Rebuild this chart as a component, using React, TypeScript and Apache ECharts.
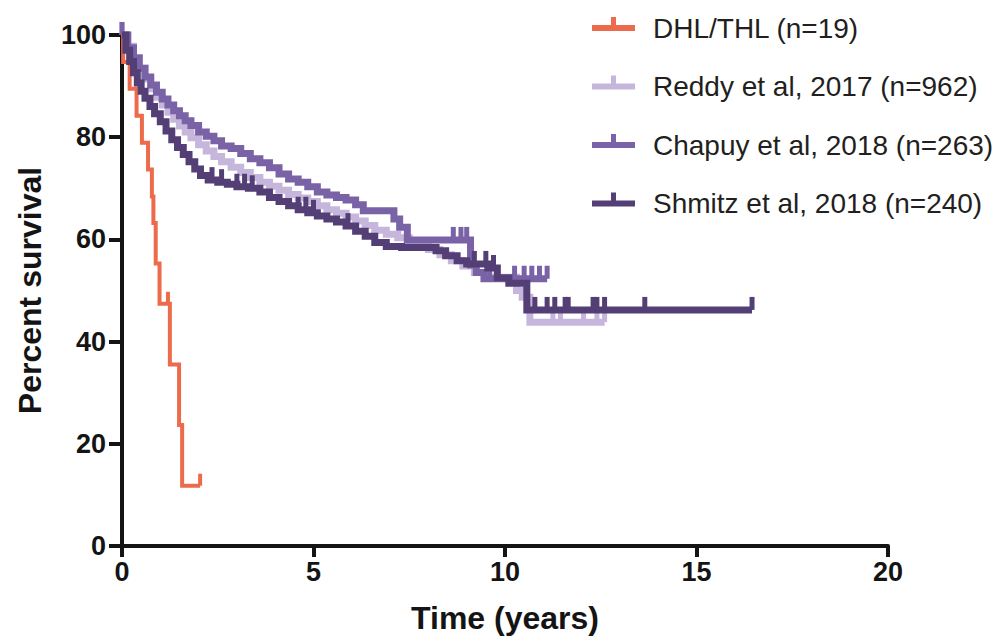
import React, { useEffect, useRef } from "react";
import * as echarts from "echarts";

const FONT = "'Liberation Sans', Arial, Helvetica, sans-serif";

const seriesNames = [
  "DHL/THL (n=19)",
  "Reddy et al, 2017 (n=962)",
  "Chapuy et al, 2018 (n=263)",
  "Shmitz et al, 2018 (n=240)",
];
const seriesColors = ["#EC6B4C", "#C6B6DB", "#7A62A6", "#533F75"];

// DHL/THL
const dhlTime = [0, 0.03, 0.2, 0.38, 0.52, 0.68, 0.78, 0.82, 0.88, 0.98, 1.25, 1.49, 1.57, 2.04];
const dhlSurv = [100, 94.7, 89.5, 84.2, 78.9, 73.7, 68.4, 63.2, 55.3, 47.4, 35.5, 23.7, 11.8, 11.8];
const dhlCensor = [1.2, 2.04];

// Reddy et al, 2017
const reddyTime = [0, 0.15, 0.3, 0.45, 0.6, 0.75, 0.9, 1.05, 1.2, 1.35, 1.5, 1.65, 1.8, 2.0, 2.2, 2.4, 2.6, 2.85, 3.1, 3.35, 3.6, 3.85, 4.1, 4.35, 4.6, 4.85, 5.1, 5.35, 5.6, 5.85, 6.1, 6.35, 6.6, 6.9, 7.2, 7.5, 7.8, 8.0, 8.3, 8.6, 8.9, 9.2, 9.5, 10.3, 10.45, 10.65, 12.6];
const reddySurv = [100, 97.8, 95.6, 93.5, 91.4, 89.5, 87.8, 86.3, 84.9, 83.5, 82.2, 81, 79.9, 78.5, 77.3, 76.2, 75.2, 74.1, 73.1, 72.1, 71.2, 70.4, 69.6, 68.8, 68.1, 67.4, 66.6, 65.8, 65.1, 64.4, 63.6, 62.7, 61.8, 61, 60.3, 59.6, 58.8, 58, 57, 55.8, 54.8, 53.5, 52.6, 50, 48.7, 43.8, 43.8];
const reddyCensor = [0, 11.25, 11.45, 12.05, 12.4, 12.6];

// Chapuy et al, 2018
const chapuyTime = [0, 0.15, 0.3, 0.45, 0.6, 0.75, 0.9, 1.05, 1.2, 1.35, 1.5, 1.65, 1.8, 2.0, 2.2, 2.4, 2.6, 2.85, 3.1, 3.35, 3.6, 3.85, 4.1, 4.35, 4.6, 4.85, 5.1, 5.35, 5.6, 5.85, 6.1, 6.3, 7.1, 7.25, 7.45, 9.1, 9.25, 9.45, 11.1];
const chapuySurv = [100, 97.5, 95.5, 93.5, 91.8, 90.2, 88.8, 87.5, 86.3, 85.2, 84.2, 83.2, 82.3, 81, 80.2, 79.3, 78.3, 77.8, 76.8, 75.8, 75, 74, 72.8, 71.8, 71.2, 70.3, 69.3, 68.7, 68.2, 67.7, 66.8, 65.6, 64, 62.4, 59.9, 55, 53.5, 52.3, 52.3];
const chapuyCensor = [0, 8.65, 8.85, 9.0, 9.6, 10.25, 10.5, 10.7, 10.9, 11.1];

// Shmitz et al, 2018
const shmitzTime = [0, 0.1, 0.2, 0.3, 0.4, 0.5, 0.6, 0.73, 0.85, 1.0, 1.15, 1.3, 1.45, 1.6, 1.75, 1.9, 2.05, 2.25, 2.5, 2.75, 3.0, 3.3, 3.6, 3.85, 4.1, 4.35, 4.6, 4.85, 5.1, 5.35, 5.6, 5.85, 6.1, 6.35, 6.6, 6.9, 7.3, 8.2, 8.45, 8.75, 9.0, 9.55, 9.8, 10.1, 10.57, 16.45];
const shmitzSurv = [100, 97, 94.8, 92.6, 90.6, 89, 87.6, 86, 84.6, 83, 81.2, 79.5, 78, 76.6, 75.2, 73.8, 72.5, 71.6, 71.2, 70.8, 70.3, 70, 69.3, 68.2, 67.4, 66.6, 65.8, 65.2, 64.6, 64, 63.4, 62.6, 61.6, 60.6, 59.4, 58.6, 58.4, 57.8, 56.8, 55.8, 55.2, 54.4, 52.5, 51.4, 46.2, 46.2];
const shmitzCensor = [2.35, 2.6, 3.0, 3.2, 3.4, 4.6, 4.8, 5.0, 5.9, 9.2, 9.5, 9.7, 10.78, 11.1, 11.3, 11.57, 11.65, 12.3, 12.4, 12.6, 13.65, 16.45];

const xTitle = "Time (years)";
const yTitle = "Percent survival";

const allTimes = [dhlTime, reddyTime, chapuyTime, shmitzTime];
const allSurv = [dhlSurv, reddySurv, chapuySurv, shmitzSurv];
const allCensor = [dhlCensor, reddyCensor, chapuyCensor, shmitzCensor];
const lineWidths = [4, 7, 7, 7];
const tickSizes: number[][] = [[4, 12], [5, 13], [5, 13], [5, 13]];

function survAt(times: number[], surv: number[], t: number) {
  let v = surv[0];
  for (let i = 0; i < times.length; i++) {
    if (times[i] <= t + 1e-9) v = surv[i];
  }
  return v;
}

export default function App() {
  const ref = useRef<HTMLDivElement>(null);
  useEffect(() => {
    document.body.style.margin = "0";
    if (!ref.current) return;
    const chart = echarts.init(ref.current, undefined, { renderer: "svg" });
    const axisColor = "#141414";
    const lineSeries = seriesNames.map((name, i) => ({
      name,
      type: "line",
      step: "end",
      data: allTimes[i].map((t, j) => [t, allSurv[i][j]]),
      showSymbol: false,
      symbol: "none",
      clip: false,
      lineStyle: { color: seriesColors[i], width: lineWidths[i], cap: "butt", join: "miter" },
      itemStyle: { color: seriesColors[i], borderWidth: 0 },
      z: 2 + i,
      silent: true,
    }));
    const censorSeries = seriesNames.map((name, i) => ({
      name: name + " censored",
      type: "scatter",
      data: allCensor[i].map((t) => [t, survAt(allTimes[i], allSurv[i], t)]),
      symbol: "rect",
      symbolSize: tickSizes[i],
      symbolOffset: [0, -tickSizes[i][1] / 2],
      itemStyle: { color: seriesColors[i], opacity: 1 },
      clip: false,
      z: 2 + i,
      silent: true,
    }));
    const option: any = {
      animation: false,
      textStyle: { fontFamily: FONT },
      grid: { left: 122, right: 107, top: 35, bottom: 98, containLabel: false },
      legend: {
        data: seriesNames,
        orient: "vertical",
        left: 587,
        top: 8,
        itemWidth: 43,
        itemHeight: 22,
        itemGap: 28.5,
        icon: "path://M0,10H43V16H0Z M19,2H24V10H19Z M21,24H22",
        itemStyle: { borderWidth: 0 },
        textStyle: {
          fontSize: 28,
          color: "#231F20",
          fontFamily: FONT,
          padding: [0, 0, 0, 13],
          lineHeight: 30,
        },
        selectedMode: false,
      },
      xAxis: {
        type: "value",
        min: 0,
        max: 20,
        interval: 5,
        name: xTitle,
        nameLocation: "middle",
        nameGap: 56,
        nameTextStyle: { fontSize: 32, fontWeight: "bold", color: axisColor, fontFamily: FONT },
        splitLine: { show: false },
        axisLine: { show: true, onZero: false, lineStyle: { color: axisColor, width: 4 } },
        axisTick: { show: true, length: 11, lineStyle: { color: axisColor, width: 4 } },
        axisLabel: { fontSize: 27, fontWeight: "bold", color: axisColor, margin: 12, fontFamily: FONT },
      },
      yAxis: {
        type: "value",
        min: 0,
        max: 100,
        interval: 20,
        name: yTitle,
        nameLocation: "middle",
        nameGap: 76,
        nameRotate: 90,
        nameTextStyle: { fontSize: 32, fontWeight: "bold", color: axisColor, fontFamily: FONT },
        splitLine: { show: false },
        axisLine: { show: true, onZero: false, lineStyle: { color: axisColor, width: 4 } },
        axisTick: { show: true, length: 13, lineStyle: { color: axisColor, width: 4 } },
        axisLabel: { fontSize: 27, fontWeight: "bold", color: axisColor, margin: 16, fontFamily: FONT },
      },
      series: [...lineSeries, ...censorSeries],
    };
    chart.setOption(option);
    return () => chart.dispose();
  }, []);
  return <div ref={ref} style={{ width: 995, height: 644 }} />;
}
